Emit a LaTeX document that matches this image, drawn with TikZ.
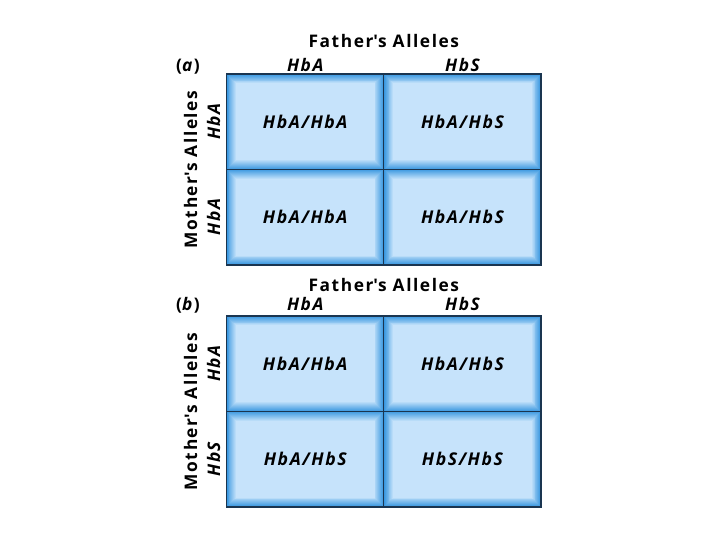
\documentclass[tikz,border=0pt]{standalone}
\usepackage{fontspec}
\setmainfont{Open Sans}[LetterSpace=9]
\usepackage{tikz}
\usetikzlibrary{positioning, calc}
\definecolor{tepi}{HTML}{3A98E0}
\definecolor{isi}{HTML}{C6E3FB}
\definecolor{garis}{HTML}{1A3550}
\tikzset{
  sel/.style={rectangle, draw=garis, line width=0.9pt, outer sep=0pt, inner sep=0pt,
    minimum width=117.9pt, minimum height=71.6pt, fill=tepi,
    font=\fontsize{13.2}{15}\selectfont\bfseries\itshape,
    path picture={
      \foreach \k in {1,...,10}{
        \pgfmathtruncatemacro{\p}{\k*10}
        \fill[isi!\p!tepi]
          ([shift={(\k*0.7pt,\k*0.7pt)}]path picture bounding box.south west) rectangle
          ([shift={(-\k*0.7pt,-\k*0.7pt)}]path picture bounding box.north east);
      }
    }},
  kepala/.style={font=\fontsize{13}{15}\selectfont\bfseries\itshape, inner sep=0pt},
  induk/.style={font=\fontsize{13}{15}\selectfont\bfseries, inner sep=0pt}
}

\begin{document}
\begin{tikzpicture}[x=0.75pt, y=-0.75pt, node distance=0pt]
  \useasboundingbox (0,0) rectangle (720,540);
  % panel (a)
  \node[sel] (a11) at (305.25,121.75) {HbA/HbA};
  \node[sel, right=of a11] (a12) {HbA/HbS};
  \node[sel, below=of a11] (a21) {HbA/HbA};
  \node[sel, right=of a21] (a22) {HbA/HbS};
  \node[kepala, above=1.5pt of a11] (ha1) {HbA};
  \node[kepala, above=1.5pt of a12] (ha2) {HbS};
  \node[induk] (fa) at ($(a11.north east)+(0,-33)$) {Father\textquotesingle s Alleles};
  \node[induk] (la) at (188,67) {(\textit{a})};
  \node[induk, rotate=90, anchor=south] (ma) at ($(a11.south west)+(-29,0)$) {Mother\textquotesingle s Alleles};
  \node[kepala, rotate=90, anchor=south] (ka1) at ([xshift=-4.5pt]a11.west) {HbA};
  \node[kepala, rotate=90, anchor=south] (ka2) at ([xshift=-4.5pt]a21.west) {HbA};
  % panel (b)
  \node[sel] (b11) at (305.25,363.75) {HbA/HbA};
  \node[sel, right=of b11] (b12) {HbA/HbS};
  \node[sel, below=of b11] (b21) {HbA/HbS};
  \node[sel, right=of b21] (b22) {HbS/HbS};
  \node[kepala, above=3.5pt of b11] (hb1) {HbA};
  \node[kepala, above=3.5pt of b12] (hb2) {HbS};
  \node[induk] (fb) at ($(b11.north east)+(0,-31)$) {Father\textquotesingle s Alleles};
  \node[induk] (lb) at (188,305) {(\textit{b})};
  \node[induk, rotate=90, anchor=south] (mb) at ($(b11.south west)+(-29,0)$) {Mother\textquotesingle s Alleles};
  \node[kepala, rotate=90, anchor=south] (kb1) at ([xshift=-4.5pt]b11.west) {HbA};
  \node[kepala, rotate=90, anchor=south] (kb2) at ([xshift=-4.5pt]b21.west) {HbS};
\end{tikzpicture}
\end{document}
